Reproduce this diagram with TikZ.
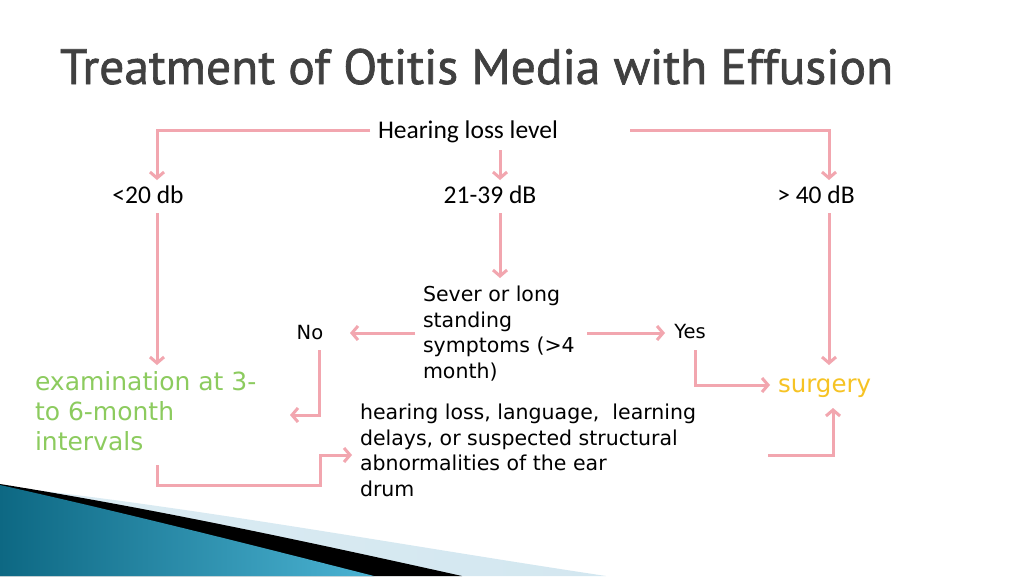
\documentclass[tikz,border=0pt]{standalone}
\usepackage{fontspec}
\setmainfont{DejaVu Sans}
\newfontfamily\condf{Carlito}
\newfontfamily\titlef[FakeBold=1.4]{PT Sans}
\usetikzlibrary{arrows.meta}
\definecolor{pinkline}{HTML}{F2A6AF}
\definecolor{titlegray}{HTML}{404040}
\definecolor{examgreen}{HTML}{8CCB5E}
\definecolor{surgyellow}{HTML}{F6C324}
\definecolor{tealdark}{HTML}{0D6883}
\definecolor{teallight}{HTML}{4BB3D3}
\definecolor{paleblue}{HTML}{D3E7F0}
\begin{document}
\begin{tikzpicture}[x=1pt,y=-1pt,
  conn/.style={draw=pinkline,line width=3pt,-{Straight Barb[length=6pt,width=14pt]}},
  plain/.style={inner sep=0pt,outer sep=0pt},
  condtxt/.style={plain,font=\condf\fontsize{25.5}{28}\selectfont},
  bodytxt/.style={plain,font=\fontsize{20.5}{25.7}\selectfont,align=left}]
\useasboundingbox (0,0) rectangle (1024,576);
\fill[white] (0,0) rectangle (1024,576);
% bottom-left decoration
\shade[left color=paleblue!80!white,right color=paleblue] (0,486) .. controls (200,508) and (400,545) .. (606,576) -- (0,576) -- cycle;
\fill[black] (0,484) .. controls (150,508) and (300,540) .. (462,576) -- (0,576) -- cycle;
\shade[left color=tealdark,right color=teallight] (0,485) .. controls (130,514) and (260,547) .. (374,576) -- (0,576) -- cycle;
% title
\node[plain,anchor=base west,text=titlegray] (title) at (60,84)
  {\resizebox{833pt}{!}{\titlef Treatment of Otitis Media with Effusion}};
% nodes
\node[condtxt,anchor=base] (hll) at (468,138) {Hearing loss level};
\node[condtxt,anchor=base] (lt) at (148,203) {<20 db};
\node[condtxt,anchor=base] (mid) at (490,203) {21-39 dB};
\node[condtxt,anchor=base] (gt) at (816,203) {> 40 dB};
\node[bodytxt,anchor=north west] (sever) at (423,286) {Sever or long\\standing\\symptoms (>4\\month)};
\node[plain,font=\fontsize{19.5}{22}\selectfont,anchor=base] (no) at (310,339) {No};
\node[plain,font=\fontsize{19.5}{22}\selectfont,anchor=base] (yes) at (690,338) {Yes};
\node[plain,font=\fontsize{24.5}{28}\selectfont,text=surgyellow,anchor=base west] (surg) at (778,392) {surgery};
\node[plain,font=\fontsize{25}{30}\selectfont,text=examgreen,align=left,anchor=north west] (exam) at (35,371) {examination at 3-\\to 6-month\\intervals};
\node[bodytxt,anchor=north west] (hear) at (360,404) {hearing loss, language,~ learning\\delays, or suspected structural\\abnormalities of the ear\\drum};
% connector points
\coordinate (a1) at (157,180);
\coordinate (a3) at (829,180);
\coordinate (m1) at (500,150);
\coordinate (m2) at (500,180);
\coordinate (l1) at (157,213);
\coordinate (l2) at (157,365);
\coordinate (c1) at (500,213);
\coordinate (c2) at (500,278);
\coordinate (r1) at (829,213);
\coordinate (r2) at (829,365);
\coordinate (n1) at (415,333);
\coordinate (n2) at (350,333);
\coordinate (y1) at (587,333);
\coordinate (y2) at (665,333);
\coordinate (nb1) at (319,350);
\coordinate (nb2) at (290,415);
\coordinate (yb1) at (695,350);
\coordinate (yb2) at (770,385);
\coordinate (bl1) at (157,465);
\coordinate (bl2) at (320,485);
\coordinate (bl3) at (352,455);
\coordinate (br1) at (768,455);
\coordinate (br2) at (833,408);
% connectors
\draw[conn] (370,130) -| (a1);
\draw[conn] (630,130) -| (a3);
\draw[conn] (m1) -- (m2);
\draw[conn] (l1) -- (l2);
\draw[conn] (c1) -- (c2);
\draw[conn] (r1) -- (r2);
\draw[conn] (n1) -- (n2);
\draw[conn] (y1) -- (y2);
\draw[conn] (nb1) |- (nb2);
\draw[conn] (yb1) |- (yb2);
\draw[conn] (bl1) |- (bl2) |- (bl3);
\draw[conn] (br1) -| (br2);
\end{tikzpicture}
\end{document}
